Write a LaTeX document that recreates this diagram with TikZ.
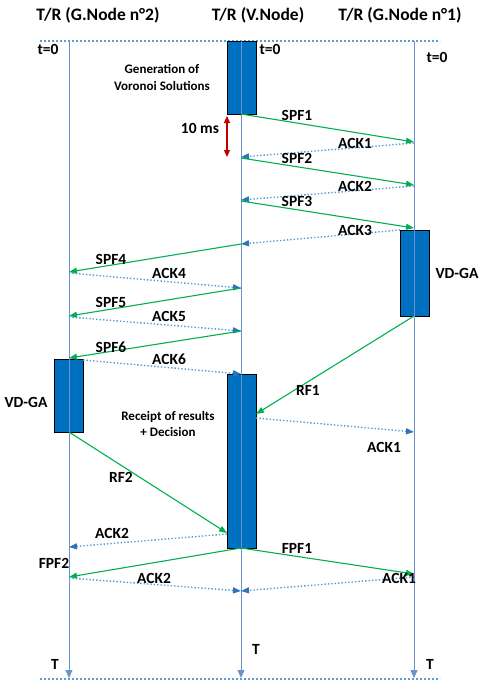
\documentclass[tikz,border=0pt]{standalone}
\usepackage{fontspec}
\setmainfont{Carlito}
\usetikzlibrary{arrows.meta}
\definecolor{life}{HTML}{6A93CC}
\definecolor{boxblue}{HTML}{0070C0}
\definecolor{grn}{HTML}{00B050}
\definecolor{dotblue}{HTML}{5B9BD5}
\definecolor{tipblue}{HTML}{2E75B6}
\definecolor{redarr}{HTML}{C00000}
\begin{document}
\begin{tikzpicture}[x=1pt,y=-1pt,
  lifeline/.style={draw=life, line width=1pt, -{Triangle[length=8pt,width=7pt]}},
  border/.style={draw=dotblue, line width=2pt, dotted},
  actbox/.style={draw=black, fill=boxblue, line width=1pt, minimum width=29pt, inner sep=0pt, anchor=north},
  msg/.style={draw=grn, line width=1.1pt, -{Triangle[length=8pt,width=6pt]}},
  ack/.style={draw=dotblue, line width=1.4pt, dotted, -{Triangle[length=8pt,width=6pt,color=tipblue]}},
  redarrow/.style={draw=redarr, line width=1.2pt, {Triangle[length=7pt,width=6pt]}-{Triangle[length=7pt,width=6pt]}},
  hdr/.style={font=\bfseries\fontsize{17.5}{20}\selectfont},
  lbl/.style={font=\bfseries\fontsize{15.5}{18}\selectfont},
  small/.style={font=\bfseries\fontsize{13}{16.5}\selectfont, align=center},
  every node/.style={inner sep=0pt}
]
\useasboundingbox (0,0) rectangle (492,699);
% borders
\coordinate (tl) at (40,41); \coordinate (tr) at (440,41);
\coordinate (bl) at (40,679); \coordinate (br) at (440,679);
\draw[border] (tl) -- (tr);
\draw[border] (bl) -- (br);
% headers
\node[hdr] (h2) at (98,15) {T/R (G.Node n°2)};
\node[hdr] (hv) at (258,15) {T/R (V.Node)};
\node[hdr] (h1) at (400,15) {T/R (G.Node n°1)};
% activation boxes
\node[actbox, minimum height=73pt] (b1) at (241.5,41) {};
\node[actbox, minimum height=86pt] (b3) at (414.5,230) {};
\node[actbox, minimum height=73pt] (b4) at (68.5,359) {};
\node[actbox, minimum height=174pt] (b2) at (241.5,374) {};
% lifelines
\coordinate (Ltop) at (69,41); \coordinate (Lbot) at (69,678);
\coordinate (Mtop) at (241,41); \coordinate (Mbot) at (241,678);
\coordinate (Rtop) at (414,41); \coordinate (Rbot) at (414,678);
\draw[lifeline] (Ltop) -- (Lbot);
\draw[lifeline] (Mtop) -- (Mbot);
\draw[lifeline] (Rtop) -- (Rbot);
% t=0 and T labels
\node[lbl] (t0a) at (48,49) {t=0};
\node[lbl] (t0b) at (270,49) {t=0};
\node[lbl] (t0c) at (437,57) {t=0};
\node[lbl] (Ta) at (55,664) {T};
\node[lbl] (Tb) at (256,649) {T};
\node[lbl] (Tc) at (430,664) {T};
% texts
\node[small] (gen) at (162,77.5) {Generation of\\Voronoi Solutions};
\node[small] (rec) at (168,424) {Receipt of results\\+ Decision};
\node[lbl] (vd1) at (457,273) {VD-GA};
\node[lbl] (vd2) at (26,402) {VD-GA};
% 10 ms
\coordinate (r1) at (227,116); \coordinate (r2) at (227,157);
\draw[redarrow] (r1) -- (r2);
\node[lbl] (tenms) at (200,128) {10 ms};
% message coordinates
\coordinate (s1a) at (241,114); \coordinate (s1b) at (414,142);
\coordinate (a1a) at (414,143); \coordinate (a1b) at (241,157);
\coordinate (s2a) at (241,158); \coordinate (s2b) at (414,185);
\coordinate (a2a) at (414,186); \coordinate (a2b) at (241,200);
\coordinate (s3a) at (241,201); \coordinate (s3b) at (414,228);
\coordinate (a3a) at (400,230); \coordinate (a3b) at (241,244);
\coordinate (s4a) at (241,244); \coordinate (s4b) at (69,272);
\coordinate (a4a) at (69,273); \coordinate (a4b) at (241,288);
\coordinate (s5a) at (241,288); \coordinate (s5b) at (69,316);
\coordinate (a5a) at (69,317); \coordinate (a5b) at (241,331);
\coordinate (s6a) at (241,331); \coordinate (s6b) at (69,358);
\coordinate (a6a) at (83,360); \coordinate (a6b) at (241,374);
\coordinate (rf1a) at (414,316); \coordinate (rf1b) at (256,414);
\coordinate (k1a) at (256,418); \coordinate (k1b) at (414,432);
\coordinate (rf2a) at (69,432); \coordinate (rf2b) at (227,533);
\coordinate (k2a) at (227,534); \coordinate (k2b) at (69,547);
\coordinate (fpa) at (241,548);
\coordinate (fp1b) at (414,574); \coordinate (fp2b) at (69,577);
\coordinate (z2a) at (69,578); \coordinate (z2b) at (241,591);
\coordinate (z1a) at (414,577); \coordinate (z1b) at (241,591);
% messages
\draw[msg] (s1a) -- (s1b);
\draw[ack] (a1a) -- (a1b);
\draw[msg] (s2a) -- (s2b);
\draw[ack] (a2a) -- (a2b);
\draw[msg] (s3a) -- (s3b);
\draw[ack] (a3a) -- (a3b);
\draw[msg] (s4a) -- (s4b);
\draw[ack] (a4a) -- (a4b);
\draw[msg] (s5a) -- (s5b);
\draw[ack] (a5a) -- (a5b);
\draw[msg] (s6a) -- (s6b);
\draw[ack] (a6a) -- (a6b);
\draw[msg] (rf1a) -- (rf1b);
\draw[ack] (k1a) -- (k1b);
\draw[msg] (rf2a) -- (rf2b);
\draw[ack] (k2a) -- (k2b);
\draw[msg] (fpa) -- (fp1b);
\draw[msg] (fpa) -- (fp2b);
\draw[ack] (z2a) -- (z2b);
\draw[ack] (z1a) -- (z1b);
% message labels
\node[lbl] (ls1) at (297,115) {SPF1};
\node[lbl] (la1) at (355,143) {ACK1};
\node[lbl] (ls2) at (297,158) {SPF2};
\node[lbl] (la2) at (355,186) {ACK2};
\node[lbl] (ls3) at (297,201) {SPF3};
\node[lbl] (la3) at (355,230) {ACK3};
\node[lbl] (ls4) at (111,259) {SPF4};
\node[lbl] (la4) at (169,273) {ACK4};
\node[lbl] (ls5) at (111,302) {SPF5};
\node[lbl] (la5) at (169,316) {ACK5};
\node[lbl] (ls6) at (111,347) {SPF6};
\node[lbl] (la6) at (169,359) {ACK6};
\node[lbl] (lrf1) at (308,390) {RF1};
\node[lbl] (lk1) at (384,447) {ACK1};
\node[lbl] (lrf2) at (121,477) {RF2};
\node[lbl] (lk2) at (112,533) {ACK2};
\node[lbl] (lfp1) at (297,548) {FPF1};
\node[lbl] (lfp2) at (54,563) {FPF2};
\node[lbl] (lz2) at (154,578) {ACK2};
\node[lbl] (lz1) at (399,578) {ACK1};
\end{tikzpicture}
\end{document}
